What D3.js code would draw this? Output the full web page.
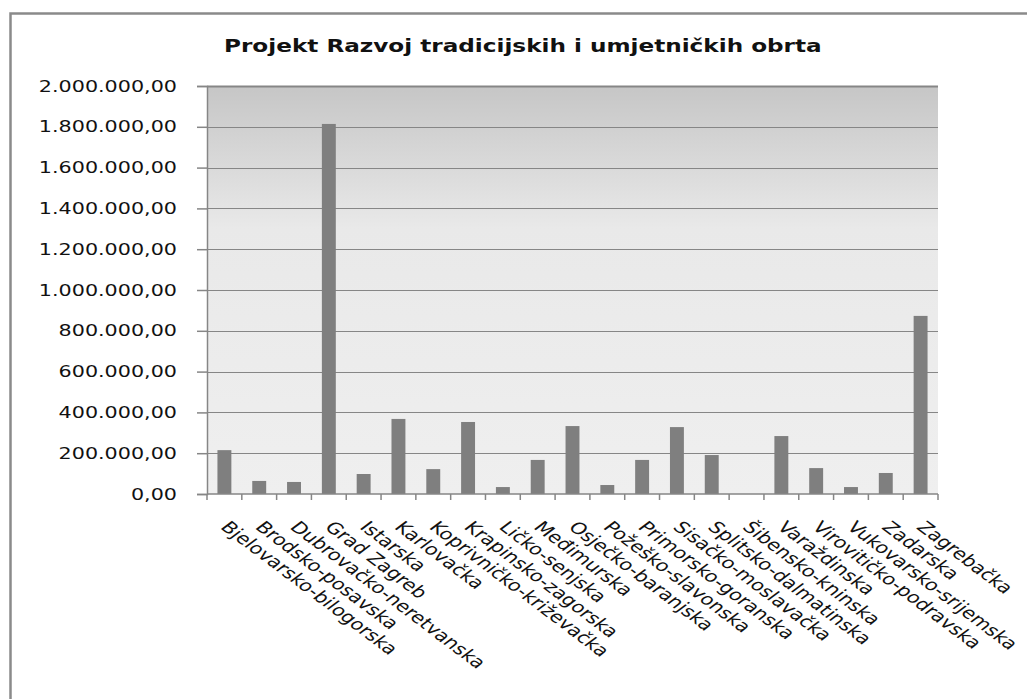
<!DOCTYPE html>
<html>
<head>
<meta charset="utf-8">
<script src="https://cdn.jsdelivr.net/npm/d3@7"></script>
<style>
  body { margin: 0; background: #fff; }
  text { font-family: "DejaVu Sans", Verdana, sans-serif; }
</style>
</head>
<body>
<div id="chart"></div>
<script>
// data
const zupanije = [
  "Bjelovarsko-bilogorska", "Brodsko-posavska", "Dubrovačko-neretvanska", "Grad Zagreb",
  "Istarska", "Karlovačka", "Koprivničko-križevačka", "Krapinsko-zagorska", "Ličko-senjska",
  "Međimurska", "Osječko-baranjska", "Požeško-slavonska", "Primorsko-goranska",
  "Sisačko-moslavačka", "Splitsko-dalmatinska", "Šibensko-kninska", "Varaždinska",
  "Virovitičko-podravska", "Vukovarsko-srijemska", "Zadarska", "Zagrebačka"
]
const iznosi = [
  215000, 64000, 59000, 1814000,
  98000, 368000, 122000, 353000, 34000,
  167000, 333000, 44000, 167000,
  328000, 191000, 0, 284000,
  127000, 34000, 103000, 873000
]
const yTicks = [0, 200000, 400000, 600000, 800000, 1000000, 1200000, 1400000, 1600000, 1800000, 2000000]
const title = "Projekt Razvoj tradicijskih i umjetničkih obrta"

const W = 1027, H = 699
// the original picture is stretched sideways, so text is too
const yStretch = 1.38
const xStretch = 1.33
const margin = { top: 86, right: 89, bottom: 205, left: 207 }

const svg = d3.select("#chart").append("svg")
  .attr("width", W)
  .attr("height", H)

// outer frame (runs off the right and bottom edge)
svg.append("rect")
  .attr("x", 10.5).attr("y", 13.5)
  .attr("width", 1040).attr("height", 720)
  .attr("fill", "#fff")
  .attr("stroke", "#8a8a8a")
  .attr("stroke-width", 2.5)

const x = d3.scaleBand()
  .domain(zupanije)
  .range([margin.left, W - margin.right])
  .paddingInner(0.6)
  .paddingOuter(0.3)

const y = d3.scaleLinear()
  .domain([0, 2000000])
  .range([H - margin.bottom, margin.top])

const hr = d3.formatLocale({ decimal: ",", thousands: ".", grouping: [3], currency: ["", ""] })
const fmt = hr.format(",.2f")

// background gradient of the plot area
const grad = svg.append("defs").append("linearGradient")
  .attr("id", "bg")
  .attr("x1", 0).attr("y1", 0).attr("x2", 0).attr("y2", 1)
grad.append("stop").attr("offset", "0%").attr("stop-color", "#c6c6c6")
grad.append("stop").attr("offset", "35%").attr("stop-color", "#e9e9e9")
grad.append("stop").attr("offset", "100%").attr("stop-color", "#efefef")

svg.append("rect")
  .attr("x", margin.left)
  .attr("y", y(2000000))
  .attr("width", W - margin.right - margin.left)
  .attr("height", y(0) - y(2000000))
  .attr("fill", "url(#bg)")

// gridlines
svg.append("g")
  .selectAll("line")
  .data(yTicks.filter(d => d > 0))
  .enter().append("line")
  .attr("x1", margin.left)
  .attr("x2", W - margin.right)
  .attr("y1", d => Math.round(y(d)) + 0.5)
  .attr("y2", d => Math.round(y(d)) + 0.5)
  .attr("stroke", "#868686")
  .attr("stroke-width", d => d == 2000000 ? 1.8 : 1.2)

// bars
svg.append("g")
  .selectAll("rect")
  .data(iznosi)
  .enter().append("rect")
  .attr("x", (d, i) => x(zupanije[i]))
  .attr("y", d => y(d))
  .attr("width", x.bandwidth())
  .attr("height", d => y(0) - y(d))
  .attr("fill", "#7f7f7f")

// y axis
const yAxis = svg.append("g")
  .attr("transform", "translate(" + margin.left + ",0)")
  .call(d3.axisLeft(y).tickValues(yTicks).tickSize(10).tickFormat(""))
yAxis.selectAll("line, path").attr("stroke", "#868686").attr("stroke-width", 1.5)

svg.append("g")
  .selectAll("text")
  .data(yTicks)
  .enter().append("text")
  .attr("transform", d => "translate(177," + (y(d) + 5.5) + ") scale(" + yStretch + ",1)")
  .attr("text-anchor", "end")
  .attr("font-size", "15px")
  .attr("fill", "#111")
  .text(d => fmt(d))

// x axis: ticks sit on the borders between categories
const step = x.step()
const borders = d3.range(zupanije.length + 1).map(i => margin.left + i * step)
const xg = svg.append("g")
xg.append("line")
  .attr("x1", margin.left).attr("x2", W - margin.right)
  .attr("y1", y(0)).attr("y2", y(0))
  .attr("stroke", "#868686").attr("stroke-width", 1.5)
xg.selectAll(".tk")
  .data(borders)
  .enter().append("line")
  .attr("class", "tk")
  .attr("x1", d => d).attr("x2", d => d)
  .attr("y1", y(0)).attr("y2", y(0) + 6)
  .attr("stroke", "#868686").attr("stroke-width", 1.5)

svg.append("g")
  .selectAll("text")
  .data(zupanije)
  .enter().append("text")
  .attr("transform", d => "translate(" + (x(d) + x.bandwidth() / 2 - 5) + "," + (y(0) + 34) + ") scale(" + xStretch + ",1) rotate(45)")
  .attr("font-size", "16px")
  .attr("fill", "#111")
  .text(d => d)

// title
const t = svg.append("text")
  .attr("font-size", "17px")
  .attr("font-weight", "bold")
  .attr("fill", "#111")
  .text(title)
const tw = t.node().getComputedTextLength()
const ts = 598 / tw
t.attr("transform", "translate(" + (523 - tw * ts / 2) + ",52) scale(" + ts + ",1)")
</script>
</body>
</html>
